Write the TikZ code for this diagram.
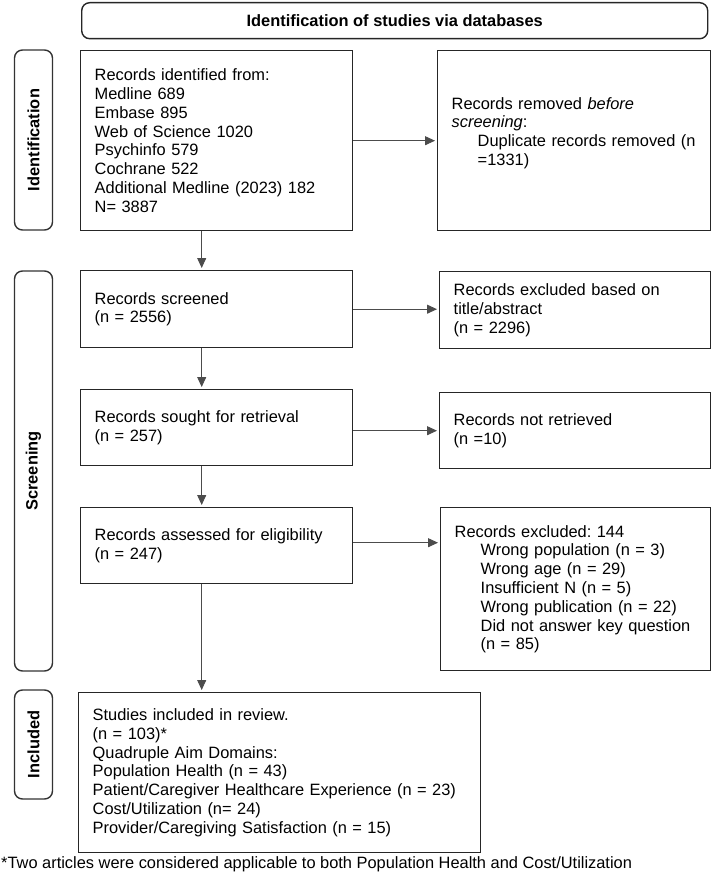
\documentclass[tikz,border=0pt]{standalone}
\usepackage{fontspec}
\setmainfont{Liberation Sans}
\usetikzlibrary{arrows.meta}
\frenchspacing
\begin{document}
\begin{tikzpicture}[x=1pt,y=-1pt,
  txt/.style={font=\fontsize{16.4}{18.8}\selectfont},
  box/.style={txt, draw=black!85, line width=1.4pt, rectangle, anchor=north west,
    inner xsep=14pt, inner ysep=0pt, align=left},
  side/.style={draw=black!80, line width=1.4pt, rounded corners=8pt, rotate=90,
    minimum height=38pt, inner sep=0pt, font=\bfseries\fontsize{16.4}{18.8}\selectfont},
  arr/.style={draw=black!70, line width=1pt, shorten >=2pt,
    -{Triangle[length=10pt,width=9pt]}},
]
\useasboundingbox (0,0) rectangle (712,880);

% header
\node[draw=black!85, line width=1.4pt, rounded corners=8pt, anchor=north west,
  minimum width=626pt, minimum height=36pt, inner sep=0pt,
  font=\bfseries\fontsize{16.4}{18.8}\selectfont] (head) at (81,2)
  {Identification of studies via databases};

% side labels
\node[side, minimum width=180pt] (sideid) at (33.5,140) {Identification};
\node[side, minimum width=400pt] (sidescr) at (33.5,471) {Screening};
\node[side, minimum width=109pt] (sideinc) at (33.5,744.5) {Included};

% main boxes
\node[box, minimum width=272pt, minimum height=180pt, text width=244pt] (ident) at (80,50)
  {Records identified from:\\
   Medline 689\\
   Embase 895\\
   Web of Science 1020\\
   Psychinfo 579\\
   Cochrane 522\\
   Additional Medline (2023) 182\\
   N= 3887};
\node[box, minimum width=273pt, minimum height=180pt, text width=245pt] (removed) at (437,50)
  {Records removed \textit{before}\\
   \textit{screening}:\\
   \hspace*{26pt}Duplicate records removed (n\\
   \hspace*{26pt}=1331)\\ \mbox{}};

\node[box, minimum width=272pt, minimum height=77pt, text width=244pt] (screened) at (80,270)
  {Records screened\\ (n = 2556)};
\node[box, minimum width=271pt, minimum height=77pt, text width=243pt] (exclta) at (439,271)
  {Records excluded based on\\ title/abstract\\ (n = 2296)};

\node[box, minimum width=272pt, minimum height=76pt, text width=244pt] (sought) at (80,389)
  {Records sought for retrieval\\ (n = 257)};
\node[box, minimum width=271pt, minimum height=76pt, text width=243pt] (notret) at (439,392)
  {Records not retrieved\\ (n =10)};

\node[box, minimum width=272pt, minimum height=76pt, text width=244pt] (assessed) at (80,507)
  {Records assessed for eligibility\\ (n = 247)};
\node[box, minimum width=270pt, minimum height=163pt, text width=242pt] (excl) at (440,507)
  {Records excluded: 144\\
   \hspace*{26pt}Wrong population (n = 3)\\
   \hspace*{26pt}Wrong age (n = 29)\\
   \hspace*{26pt}Insufficient N (n = 5)\\
   \hspace*{26pt}Wrong publication (n = 22)\\
   \hspace*{26pt}Did not answer key question\\
   \hspace*{26pt}(n = 85)};

\node[box, minimum width=402pt, minimum height=160pt, text width=374pt] (incl) at (78,692)
  {Studies included in review.\\
   (n = 103)*\\
   Quadruple Aim Domains:\\
   Population Health (n = 43)\\
   Patient/Caregiver Healthcare Experience (n = 23)\\
   Cost/Utilization (n= 24)\\
   Provider/Caregiving Satisfaction (n = 15)};

% footnote
\node[txt, anchor=west, inner sep=0pt] (foot) at (1,864)
  {*Two articles were considered applicable to both Population Health and Cost/Utilization};

% horizontal arrows
\draw[arr] (ident.east) -- (ident.east -| removed.west);
\draw[arr] (screened.east) -- (screened.east -| exclta.west);
\draw[arr] (sought.east |- notret.west) -- (notret.west);
\draw[arr] ([yshift=3pt]assessed.east) -- ([yshift=3pt]assessed.east -| excl.west);

% vertical arrows
\draw[arr] ([xshift=-15pt]ident.south) -- ([xshift=-15pt]ident.south |- screened.north);
\draw[arr] ([xshift=-15pt]screened.south) -- ([xshift=-15pt]screened.south |- sought.north);
\draw[arr] ([xshift=-15pt]sought.south) -- ([xshift=-15pt]sought.south |- assessed.north);
\draw[arr] ([xshift=-15pt]assessed.south) -- ([xshift=-15pt]assessed.south |- incl.north);
\end{tikzpicture}
\end{document}
